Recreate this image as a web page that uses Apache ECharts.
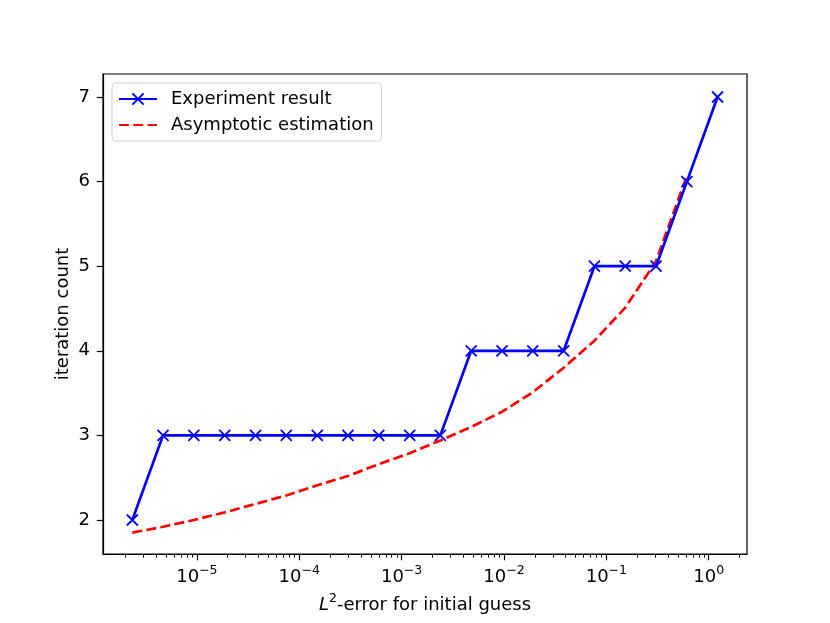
<!DOCTYPE html>
<html>
<head>
<meta charset="utf-8">
<title>iteration count vs L2-error</title>
<script src="https://cdn.jsdelivr.net/npm/echarts@6/dist/echarts.min.js"></script>
<style>
  html, body { margin: 0; padding: 0; background: #fff; }
  #chart { width: 830px; height: 623px; }
</style>
</head>
<body>
<div id="chart"></div>
<script>
// L2-error of the initial guess (x, log scale)
var errors = [2.34e-6, 4.67e-6, 9.34e-6, 1.87e-5, 3.74e-5, 7.47e-5, 1.50e-4, 2.99e-4,
  5.98e-4, 1.20e-3, 2.39e-3, 4.78e-3, 9.57e-3, 1.91e-2, 3.83e-2, 7.65e-2,
  0.153, 0.306, 0.612, 1.22];
// measured iteration counts
var experiment = [2, 3, 3, 3, 3, 3, 3, 3, 3, 3, 3, 4, 4, 4, 4, 5, 5, 5, 6, 7];
// asymptotic estimate (one point less, stops at 0.612)
var estimation = [1.85, 1.92, 2.00, 2.09, 2.19, 2.29, 2.41, 2.52, 2.66, 2.79,
  2.94, 3.10, 3.28, 3.51, 3.80, 4.12, 4.51, 5.06, 6.07];

var xMajorTicks = [1e-5, 1e-4, 1e-3, 1e-2, 1e-1, 1];
var xMinorMantissa = [2, 3, 4, 5, 6, 7, 8, 9];
var xMinorDecades = [1e-6, 1e-5, 1e-4, 1e-3, 1e-2, 1e-1, 1];
var yTicks = [2, 3, 4, 5, 6, 7];

var xMin = 1.21e-6, xMax = 2.366;
var yMin = 1.598, yMax = 7.272;

var font = 'DejaVu Sans';

// minor ticks like matplotlib: 2..9 x 10^k inside the range
var xMinorTicks = [];
xMinorDecades.forEach(function (d) {
  xMinorMantissa.forEach(function (m) {
    var v = +(m * d).toPrecision(3);
    if (v > xMin && v < xMax) xMinorTicks.push(v);
  });
});

function toPairs(xs, ys) {
  return ys.map(function (y, i) { return [xs[i], y]; });
}

var chart = echarts.init(document.getElementById('chart'), null, { renderer: 'canvas' });

var option = {
  animation: false,
  backgroundColor: '#fff',
  textStyle: { fontFamily: font },
  grid: {
    left: 103, right: 83, top: 74, bottom: 69,
    containLabel: false,
    outerBoundsMode: 'none',
    show: true,
    borderColor: '#000',
    borderWidth: 1.2,
    backgroundColor: 'transparent'
  },
  legend: {
    orient: 'vertical',
    left: 112,
    top: 83,
    padding: [6, 8, 6, 6],
    itemWidth: 38,
    itemHeight: 14,
    itemGap: 6,
    borderColor: '#d0d0d0',
    borderWidth: 1,
    borderRadius: 4,
    backgroundColor: 'rgba(255,255,255,0.8)',
    textStyle: { fontFamily: font, fontSize: 18, color: '#000', lineHeight: 20, padding: [0, 0, 0, 9] },
    data: ['Experiment result', 'Asymptotic estimation']
  },
  xAxis: [
    {
      type: 'log',
      logBase: 10,
      min: xMin,
      max: xMax,
      name: '{i|L}{s|2}{n|-error for initial guess}',
      nameLocation: 'middle',
      nameGap: 38,
      nameTextStyle: {
        rich: {
          i: { fontFamily: font, fontSize: 18, fontStyle: 'italic', color: '#000', verticalAlign: 'bottom', lineHeight: 22 },
          s: { fontFamily: font, fontSize: 12.5, color: '#000', verticalAlign: 'top', lineHeight: 14 },
          n: { fontFamily: font, fontSize: 18, color: '#000', verticalAlign: 'bottom', lineHeight: 22 }
        }
      },
      axisLine: { show: true, lineStyle: { color: '#000', width: 1.2 } },
      axisTick: { show: true, inside: false, length: 6.3, customValues: xMajorTicks, lineStyle: { color: '#000', width: 1.2 } },
      axisLabel: {
        show: true,
        margin: 10,
        customValues: xMajorTicks,
        formatter: function (v) {
          var e = Math.round(Math.log10(v));
          return '{b|10}{s|' + (e < 0 ? '\u2212' + (-e) : e) + '}';
        },
        rich: {
          b: { fontFamily: font, fontSize: 18, color: '#000', verticalAlign: 'bottom', lineHeight: 22 },
          s: { fontFamily: font, fontSize: 12.5, color: '#000', verticalAlign: 'top', lineHeight: 14 }
        }
      },
      splitLine: { show: false },
      minorTick: { show: false },
      minorSplitLine: { show: false }
    },
    {
      // minor ticks only
      type: 'log',
      logBase: 10,
      min: xMin,
      max: xMax,
      gridIndex: 0,
      position: 'bottom',
      axisLine: { show: false },
      axisTick: { show: true, inside: false, length: 3.6, customValues: xMinorTicks, lineStyle: { color: '#000', width: 1 } },
      axisLabel: { show: false },
      splitLine: { show: false }
    }
  ],
  yAxis: {
    type: 'value',
    min: yMin,
    max: yMax,
    name: 'iteration count',
    nameLocation: 'middle',
    nameGap: 31,
    nameMoveOverlap: false,
    nameTextStyle: { fontFamily: font, fontSize: 18, color: '#000' },
    axisLine: { show: true, lineStyle: { color: '#000', width: 1.2 } },
    axisTick: { show: true, inside: false, length: 6.3, customValues: yTicks, lineStyle: { color: '#000', width: 1.2 } },
    axisLabel: { show: true, margin: 13, customValues: yTicks, fontFamily: font, fontSize: 18, color: '#000' },
    splitLine: { show: false }
  },
  series: [
    {
      name: 'Experiment result',
      type: 'line',
      xAxisIndex: 0,
      data: toPairs(errors, experiment),
      symbol: 'path://M0,0L10,10M0,10L10,0',
      symbolSize: 11,
      showSymbol: true,
      showAllSymbol: true,
      itemStyle: { color: '#0000ff', borderColor: '#0000ff', borderWidth: 1.8 },
      lineStyle: { color: '#0000ff', width: 2.7 },
      emphasis: { disabled: true },
      z: 3
    },
    {
      name: 'Asymptotic estimation',
      type: 'line',
      xAxisIndex: 0,
      data: toPairs(errors, estimation),
      // diagonal stroke-only path with no border: legend shows just the dashed line
      symbol: 'path://M0,0L10,10',
      showSymbol: false,
      itemStyle: { color: '#ff0000', borderColor: 'rgba(0,0,0,0)', borderWidth: 0 },
      lineStyle: { color: '#ff0000', width: 2.7, type: [10, 4.3] },
      emphasis: { disabled: true },
      z: 2
    }
  ]
};

chart.setOption(option);
</script>
</body>
</html>
